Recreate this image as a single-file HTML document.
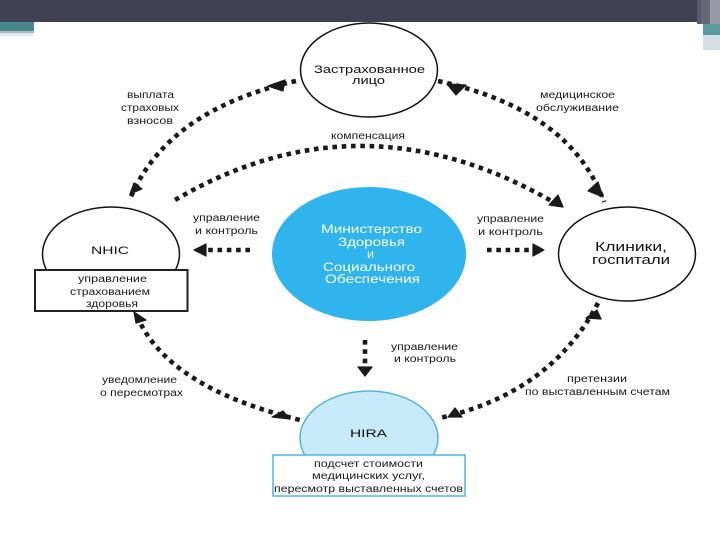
<!DOCTYPE html>
<html><head><meta charset="utf-8"><style>
html,body{margin:0;padding:0;background:#fff}
svg{display:block}
text{font-family:"Liberation Sans",sans-serif;font-size:10px;fill:#1a1a1a}
.b{font-size:11px;fill:#111}
.w{font-size:11.5px;fill:#fff}
.d{fill:none;stroke:#1a1a1a;stroke-width:4.6;stroke-dasharray:4.6 4.7}
.h{fill:#1a1a1a;stroke:#1a1a1a;stroke-width:1.2;stroke-linejoin:round}
</style></head><body>
<svg width="720" height="540" viewBox="0 0 720 540" xmlns="http://www.w3.org/2000/svg">
<rect width="720" height="540" fill="#fff"/>
<rect width="720" height="22" fill="#404152"/>
<rect x="697" y="0" width="4" height="24" fill="#5a5b6c"/>
<rect x="701" y="0" width="9" height="24" fill="#666778"/>
<rect x="710" y="0" width="10" height="24" fill="#9a9aa6"/>
<rect x="703" y="24" width="17" height="11" fill="#5d9aa0"/>
<rect x="703" y="35" width="17" height="15" fill="#d5dee0"/>
<rect x="0" y="22" width="34" height="9" fill="#47868a"/>
<rect x="0" y="31" width="34" height="2" fill="#a9bcc0"/>
<rect x="0" y="33" width="34" height="3" fill="#e4e8ea"/>

<ellipse cx="369" cy="70" rx="68.5" ry="47" fill="#fff" stroke="#111" stroke-width="1.5"/>
<ellipse cx="111" cy="254" rx="68.5" ry="47" fill="#fff" stroke="#111" stroke-width="1.5"/>
<ellipse cx="627" cy="254" rx="68.5" ry="47" fill="#fff" stroke="#111" stroke-width="1.5"/>
<ellipse cx="369" cy="254" rx="97" ry="67" fill="#30b4ee"/>
<ellipse cx="369" cy="438" rx="69" ry="47" fill="#c8ebfb" stroke="#55b4dc" stroke-width="1.5"/>

<rect x="35" y="270" width="152.500" height="41" fill="#fff" stroke="#222" stroke-width="2"/>
<rect x="273" y="455" width="192" height="41" fill="#fff" stroke="#52b4dc" stroke-width="1.5"/>

<path class="d" d="M296 81Q167 110 130 199"/>
<path class="d" d="M438 81Q571 110 604 202"/>
<path class="d" d="M175 200Q364 89 560 206"/>
<path class="d" d="M137 316Q167.500 387.500 300 420"/>
<path class="d" d="M598 303Q551 393 440 418"/>
<path class="d" d="M250 250H206"/>
<path class="d" d="M487 250H532"/>
<path class="d" d="M365 340V364"/>

<polygon class="h" points="268,86 285,80 283,91"/>
<polygon class="h" points="130,194 134,183 142,189"/>
<polygon class="h" points="447,84 466,85 456,95"/>
<polygon class="h" points="603,197 588,191 598,182"/>
<polygon class="h" points="563,207 549,205 558,195"/>
<polygon class="h" points="134,312 146,320 136,323"/>
<polygon class="h" points="290,419 272,417 283,411"/>
<polygon class="h" points="597,310 601,319 586,318"/>
<polygon class="h" points="448,417 455,408 462,417"/>
<polygon class="h" points="194,250 206,244 206,256"/>
<polygon class="h" points="544,250 533,244 533,256"/>
<polygon class="h" points="365,376 358,367 372,367"/>

<text class="b" x="314" y="73" textLength="111" lengthAdjust="spacingAndGlyphs">Застрахованное</text>
<text class="b" x="352" y="84" textLength="33" lengthAdjust="spacingAndGlyphs">лицо</text>
<text x="127" y="98" textLength="47" lengthAdjust="spacingAndGlyphs">выплата</text>
<text x="121" y="111" textLength="58" lengthAdjust="spacingAndGlyphs">страховых</text>
<text x="127" y="124" textLength="46" lengthAdjust="spacingAndGlyphs">взносов</text>
<text x="540" y="98" textLength="75" lengthAdjust="spacingAndGlyphs">медицинское</text>
<text x="536" y="111" textLength="83" lengthAdjust="spacingAndGlyphs">обслуживание</text>
<text x="331" y="139" textLength="74" lengthAdjust="spacingAndGlyphs">компенсация</text>
<text x="193" y="221" textLength="67" lengthAdjust="spacingAndGlyphs">управление</text>
<text x="195" y="234" textLength="63" lengthAdjust="spacingAndGlyphs">и контроль</text>
<text x="477" y="222" textLength="67" lengthAdjust="spacingAndGlyphs">управление</text>
<text x="478" y="235" textLength="65" lengthAdjust="spacingAndGlyphs">и контроль</text>
<text class="b" x="91" y="254" textLength="38" lengthAdjust="spacingAndGlyphs">NHIC</text>
<text class="b" x="595" y="251" textLength="72" lengthAdjust="spacingAndGlyphs" style="font-size:13px">Клиники,</text>
<text class="b" x="592" y="264" textLength="78" lengthAdjust="spacingAndGlyphs" style="font-size:13px">госпитали</text>
<text class="w" x="321" y="233" textLength="101" lengthAdjust="spacingAndGlyphs">Министерство</text>
<text class="w" x="338" y="246" textLength="67" lengthAdjust="spacingAndGlyphs">Здоровья</text>
<text class="w" x="367" y="258" textLength="7" lengthAdjust="spacingAndGlyphs">и</text>
<text class="w" x="323" y="271" textLength="92" lengthAdjust="spacingAndGlyphs">Социального</text>
<text class="w" x="325" y="283" textLength="95" lengthAdjust="spacingAndGlyphs">Обеспечения</text>
<text x="78" y="282" textLength="69" lengthAdjust="spacingAndGlyphs">управление</text>
<text x="70" y="295" textLength="80" lengthAdjust="spacingAndGlyphs">страхованием</text>
<text x="86" y="307" textLength="52" lengthAdjust="spacingAndGlyphs">здоровья</text>
<text x="391" y="350" textLength="67" lengthAdjust="spacingAndGlyphs">управление</text>
<text x="394" y="362" textLength="62" lengthAdjust="spacingAndGlyphs">и контроль</text>
<text x="102" y="383" textLength="75" lengthAdjust="spacingAndGlyphs">уведомление</text>
<text x="100" y="396" textLength="83" lengthAdjust="spacingAndGlyphs">о пересмотрах</text>
<text x="567" y="382" textLength="60" lengthAdjust="spacingAndGlyphs">претензии</text>
<text x="525" y="395" textLength="145" lengthAdjust="spacingAndGlyphs">по выставленным счетам</text>
<text class="b" x="350" y="437" textLength="37" lengthAdjust="spacingAndGlyphs">HIRA</text>
<text x="314" y="467" textLength="109" lengthAdjust="spacingAndGlyphs">подсчет стоимости</text>
<text x="312" y="479" textLength="113" lengthAdjust="spacingAndGlyphs">медицинских услуг,</text>
<text x="274" y="492" textLength="189" lengthAdjust="spacingAndGlyphs">пересмотр выставленных счетов</text>
</svg>
</body></html>
